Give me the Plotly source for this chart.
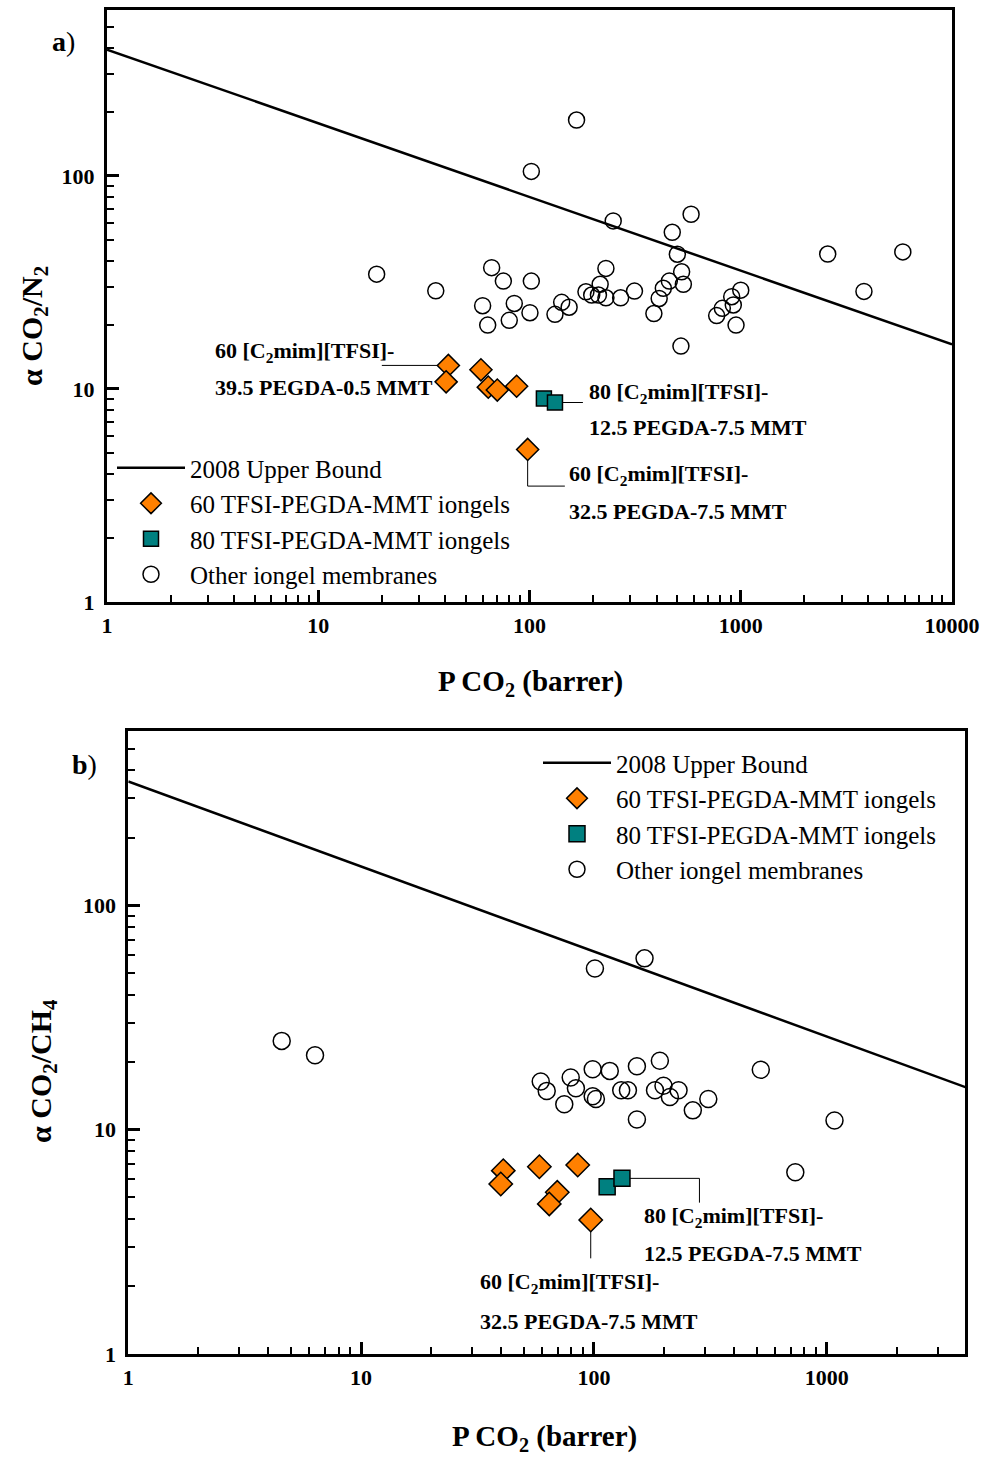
import plotly.graph_objects as go

W, H = 995, 1461
SERIF = "Liberation Serif"

# ---------------- data: panel a (CO2/N2) ----------------
ub_a_x = [1, 10000]
ub_a_y = [392, 16.2]

a60_x = [41.3, 40.3, 58.9, 63.8, 70.4, 86.9, 98.0]
a60_y = [12.9, 10.8, 12.3, 10.2, 9.88, 10.3, 5.2]

a80_x = [117, 132]
a80_y = [9.03, 8.64]

a_other_x = [18.9, 36.0, 66.2, 75.2, 102, 60.0, 84.7, 100.5, 63.4, 80.2,
             142, 154, 132, 230, 216, 185, 197, 212, 230, 270,
             314, 501, 525, 535, 459, 430, 411, 388, 1000, 906,
             922, 818, 769, 950, 521, 167, 102, 249, 582, 474,
             2580, 5850, 3830]
a_other_y = [34.6, 28.9, 37.1, 32.1, 32.1, 24.6, 25.2, 22.8, 19.95, 21.0,
             25.5, 24.2, 22.4, 36.8, 31.0, 28.6, 27.6, 27.6, 26.8, 26.8,
             28.8, 42.9, 35.5, 31.0, 32.1, 29.7, 26.6, 22.6, 29.1, 27.1,
             24.8, 23.9, 22.1, 19.95, 15.9, 183, 105, 61.5, 66.1, 54.4,
             43.0, 44.0, 28.7]

# leader lines (panel a)
lead_a1_x = [20.0, 41.3]; lead_a1_y = [12.9, 12.9]
lead_a2_x = [132, 179]; lead_a2_y = [8.64, 8.64]
lead_a3_x = [98, 98, 147]; lead_a3_y = [5.2, 3.5, 3.5]

# ---------------- data: panel b (CO2/CH4) ----------------
ub_b_x = [1, 4000]
ub_b_y = [357, 15.4]

b60_x = [40.8, 39.8, 58.3, 85.2, 69.6, 64.3, 96.9]
b60_y = [6.57, 5.73, 6.84, 6.96, 5.26, 4.67, 3.96]

b80_x = [114, 132]
b80_y = [5.57, 6.07]

b_other_x = [4.56, 6.34, 101, 165, 59.1, 62.7, 79.5, 83.7, 74.6, 98.8,
             117, 98.8, 102, 153, 192, 131, 140, 153, 183, 199,
             212, 231, 266, 310, 521, 1080, 733]
b_other_y = [24.9, 21.5, 52.4, 58.1, 16.4, 14.9, 17.1, 15.3, 13.0, 18.6,
             18.3, 14.1, 13.7, 19.2, 20.3, 15.0, 15.0, 11.1, 15.0, 15.7,
             14.0, 15.0, 12.2, 13.7, 18.5, 11.0, 6.46]

lead_b1_x = [132, 284, 284]; lead_b1_y = [6.07, 6.07, 4.73]
lead_b2_x = [96.9, 96.9]; lead_b2_y = [3.96, 2.67]

x_a_ticks = [1, 10, 100, 1000, 10000]
x_b_ticks = [1, 10, 100, 1000]
y_ticks = [1, 10, 100]

ORANGE = "#FF8000"
TEAL = "#008080"


def px(x):
    return x / W


def py(y):
    return 1 - y / H


def minor_vals(lo, hi):
    vals = []
    for d in range(lo, hi):
        for k in range(2, 10):
            vals.append(k * 10 ** d)
    return vals


fig = go.Figure()


def add_panel(xa, ya, leg, ubx, uby, x60, y60, x80, y80, xo, yo, leads, s60, s80, so):
    for lx, ly in leads:
        fig.add_trace(go.Scatter(x=lx, y=ly, mode="lines", xaxis=xa, yaxis=ya,
                                 line=dict(color="black", width=1),
                                 showlegend=False, hoverinfo="skip"))
    fig.add_trace(go.Scatter(x=ubx, y=uby, mode="lines", name="2008 Upper Bound",
                             xaxis=xa, yaxis=ya, legend=leg,
                             line=dict(color="black", width=2.5)))
    fig.add_trace(go.Scatter(x=x60, y=y60, mode="markers", name="60 TFSI-PEGDA-MMT iongels",
                             xaxis=xa, yaxis=ya, legend=leg,
                             marker=dict(symbol="diamond", size=s60, color=ORANGE,
                                         line=dict(color="black", width=1.5))))
    fig.add_trace(go.Scatter(x=x80, y=y80, mode="markers", name="80 TFSI-PEGDA-MMT iongels",
                             xaxis=xa, yaxis=ya, legend=leg,
                             marker=dict(symbol="square", size=s80, color=TEAL,
                                         line=dict(color="black", width=1.5))))
    fig.add_trace(go.Scatter(x=xo, y=yo, mode="markers", name="Other iongel membranes",
                             xaxis=xa, yaxis=ya, legend=leg,
                             marker=dict(symbol="circle-open", size=so, color="black",
                                         line=dict(color="black", width=1.5))))


add_panel("x", "y", "legend", ub_a_x, ub_a_y, a60_x, a60_y, a80_x, a80_y,
          a_other_x, a_other_y,
          [(lead_a1_x, lead_a1_y), (lead_a2_x, lead_a2_y), (lead_a3_x, lead_a3_y)],
          17, 15, 16)
add_panel("x2", "y2", "legend2", ub_b_x, ub_b_y, b60_x, b60_y, b80_x, b80_y,
          b_other_x, b_other_y,
          [(lead_b1_x, lead_b1_y), (lead_b2_x, lead_b2_y)],
          18, 16, 17)

tickfont = dict(family=SERIF, size=22, color="black", weight="bold")


def xaxis_cfg(domain, anchor, rng, ticks):
    return dict(type="log", domain=domain, anchor=anchor, range=rng,
                tickmode="array", tickvals=ticks, ticktext=[str(t) for t in ticks],
                ticks="inside", ticklen=12, tickwidth=2.5, tickcolor="black",
                minor=dict(tickmode="array", tickvals=minor_vals(0, 4), ticks="inside",
                           ticklen=7, tickwidth=2, tickcolor="black", showgrid=False),
                showline=True, linewidth=3, linecolor="black", mirror=True,
                showgrid=False, zeroline=False, tickfont=tickfont,
                ticklabelstandoff=2, automargin=False)


def yaxis_cfg(domain, anchor, rng):
    return dict(type="log", domain=domain, anchor=anchor, range=rng,
                tickmode="array", tickvals=y_ticks, ticktext=[str(t) for t in y_ticks],
                ticks="inside", ticklen=12, tickwidth=2.5, tickcolor="black",
                minor=dict(tickmode="array", tickvals=minor_vals(0, 3), ticks="inside",
                           ticklen=7, tickwidth=2, tickcolor="black", showgrid=False),
                showline=True, linewidth=3, linecolor="black", mirror=True,
                showgrid=False, zeroline=False, tickfont=tickfont,
                ticklabelstandoff=5, automargin=False)


legfont = dict(family=SERIF, size=25, color="black")

fig.update_layout(
    template="none",
    width=W, height=H, autosize=False,
    margin=dict(l=0, r=0, t=0, b=0, pad=0, autoexpand=False),
    paper_bgcolor="white", plot_bgcolor="white",
    xaxis=xaxis_cfg([px(107), px(952)], "y", [0, 4], x_a_ticks),
    yaxis=yaxis_cfg([py(602), py(10)], "x", [0, 2.779]),
    xaxis2=xaxis_cfg([px(128.3), px(965)], "y2", [0, 3.594], x_b_ticks),
    yaxis2=yaxis_cfg([py(1354), py(731)], "x2", [0, 2.778]),
    legend=dict(x=px(112), y=py(445), xanchor="left", yanchor="top",
                bgcolor="rgba(0,0,0,0)", font=legfont, itemwidth=68,
                tracegroupgap=0, borderwidth=0),
    legend2=dict(x=px(538), y=py(740), xanchor="left", yanchor="top",
                 bgcolor="rgba(0,0,0,0)", font=legfont, itemwidth=68,
                 tracegroupgap=0, borderwidth=0),
    showlegend=True,
)

ann = []


def add_text(text, x, y, size=22, xanchor="left", angle=0):
    ann.append(dict(text=text, x=px(x), y=py(y), xref="paper", yref="paper",
                    xanchor=xanchor, yanchor="middle", showarrow=False,
                    textangle=angle,
                    font=dict(family=SERIF, size=size, color="black")))


L60 = "<b>60 [C<sub>2</sub>mim][TFSI]-</b>"
L80 = "<b>80 [C<sub>2</sub>mim][TFSI]-</b>"

# panel a labels
add_text(L60, 213, 352)
add_text("<b>39.5 PEGDA-0.5 MMT</b>", 213, 387)
add_text(L80, 587, 393)
add_text("<b>12.5 PEGDA-7.5 MMT</b>", 587, 428)
add_text(L60, 567, 475)
add_text("<b>32.5 PEGDA-7.5 MMT</b>", 567, 512)
# panel b labels
add_text(L80, 642, 1217)
add_text("<b>12.5 PEGDA-7.5 MMT</b>", 642, 1253)
add_text(L60, 478, 1283)
add_text("<b>32.5 PEGDA-7.5 MMT</b>", 478, 1321)

# panel letters
add_text("<b>a</b>)", 50, 42, size=28)
add_text("<b>b</b>)", 70, 764, size=28)

# axis titles
add_text("<b>P CO<sub>2</sub> (barrer)</b>", 530, 683, size=29, xanchor="center")
add_text("<b>P CO<sub>2</sub> (barrer)</b>", 544, 1438, size=29, xanchor="center")
add_text("<b>α CO<sub>2</sub>/N<sub>2</sub></b>", 34, 326, size=30, xanchor="center", angle=-90)
add_text("<b>α CO<sub>2</sub>/CH<sub>4</sub></b>", 43, 1071, size=30, xanchor="center", angle=-90)

fig.update_layout(annotations=ann)

fig.write_html("out.html")
